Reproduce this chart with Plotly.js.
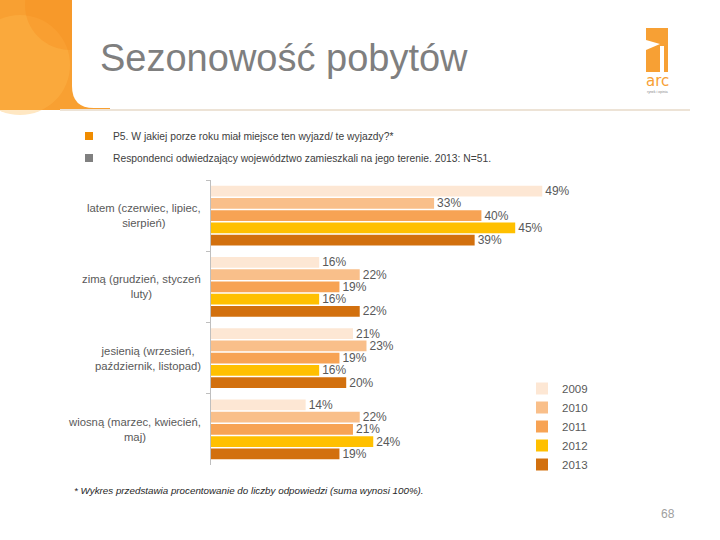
<!DOCTYPE html>
<html><head><meta charset="utf-8">
<script src="https://cdn.plot.ly/plotly-3.0.1.min.js"></script>
<style>html,body{margin:0;padding:0;background:#fff}#chart{width:720px;height:540px}</style>
</head><body><div id="chart"></div>
<script>
// Data
const categories = ["latem (czerwiec, lipiec,<br>sierpień)", "zimą (grudzień, styczeń<br>luty)", "jesienią (wrzesień,<br>październik, listopad)", "wiosną (marzec, kwiecień,<br>maj)"];
const years = ["2009", "2010", "2011", "2012", "2013"];
const v2009 = [49, 16, 21, 14];
const v2010 = [33, 22, 23, 22];
const v2011 = [40, 19, 19, 21];
const v2012 = [45, 16, 16, 24];
const v2013 = [39, 22, 20, 19];
const seriesValues = [v2009, v2010, v2011, v2012, v2013];
const colors = ["#FDE7D4", "#F9BF8A", "#F7A354", "#FFC000", "#D2700E"];

const W = 720, H = 540, L = 211, R = 620, T = 180, B = 465;
const px = x => (x - L) / (R - L);
const py = y => (B - y) / (B - T);
const FONT = 'Liberation Sans, Arial, sans-serif';

const traces = years.map((yr, i) => ({
  type: 'bar', orientation: 'h', name: yr,
  y: categories, x: seriesValues[i],
  marker: {color: colors[i]},
  text: seriesValues[i].map(v => v + '%'), textposition: 'outside', constraintext: 'none',
  textfont: {family: FONT, size: 12, color: '#595959'},
  cliponaxis: false, hoverinfo: 'x+name'
}));

const gray = '#595959';
const shapes = [
  // header orange panel
  {type: 'rect', xref: 'paper', yref: 'paper', x0: px(0), x1: px(110), y0: py(110), y1: py(0), fillcolor: '#F8A032', line: {width: 0}, layer: 'below'},
  {type: 'circle', xref: 'paper', yref: 'paper', x0: px(-30), x1: px(70), y0: py(115), y1: py(15), fillcolor: 'rgba(255,185,80,0.35)', line: {width: 0}, layer: 'below'},
  {type: 'circle', xref: 'paper', yref: 'paper', x0: px(25), x1: px(115), y0: py(50), y1: py(-40), fillcolor: 'rgba(245,140,30,0.35)', line: {width: 0}, layer: 'below'},
  // white header panel with rounded bottom-left corner
  {type: 'path', xref: 'paper', yref: 'paper',
   path: `M ${px(72)} ${py(-1)} L ${px(721)} ${py(-1)} L ${px(721)} ${py(108)} L ${px(94)} ${py(108)} Q ${px(72)} ${py(108)} ${px(72)} ${py(86)} Z`,
   fillcolor: '#ffffff', line: {width: 0}, layer: 'below'},
  {type: 'line', xref: 'paper', yref: 'paper', x0: px(60), x1: px(690), y0: py(110), y1: py(110), line: {color: '#EDE3D6', width: 2}},
  // bullets
  {type: 'rect', xref: 'paper', yref: 'paper', x0: px(85), x1: px(93), y0: py(140), y1: py(132), fillcolor: '#F08C00', line: {width: 0}},
  {type: 'rect', xref: 'paper', yref: 'paper', x0: px(85), x1: px(93), y0: py(162), y1: py(154), fillcolor: '#808080', line: {width: 0}},
  // logo
  {type: 'rect', xref: 'paper', yref: 'paper', x0: px(646), x1: px(668), y0: py(72), y1: py(28), fillcolor: '#F7A034', line: {width: 0}},
  {type: 'path', xref: 'paper', yref: 'paper',
   path: `M ${px(646)} ${py(40)} L ${px(660)} ${py(44)} L ${px(646)} ${py(50)} Z`, fillcolor: '#ffffff', line: {width: 0}},
  {type: 'rect', xref: 'paper', yref: 'paper', x0: px(660), x1: px(664), y0: py(72), y1: py(46), fillcolor: '#ffffff', line: {width: 0}}
];

const annotations = [
  {xref: 'paper', yref: 'paper', x: px(111), y: py(136), xanchor: 'left', yanchor: 'middle', showarrow: false,
   text: 'P5. W jakiej porze roku miał miejsce ten wyjazd/ te wyjazdy?*', font: {family: FONT, size: 10.3, color: '#404040'}},
  {xref: 'paper', yref: 'paper', x: px(111), y: py(158), xanchor: 'left', yanchor: 'middle', showarrow: false,
   text: 'Respondenci odwiedzający województwo zamieszkali na jego terenie. 2013: N=51.', font: {family: FONT, size: 10.3, color: '#404040'}},
  {xref: 'paper', yref: 'paper', x: px(72), y: py(490), xanchor: 'left', yanchor: 'middle', showarrow: false,
   text: '<i>* Wykres przedstawia procentowanie do liczby odpowiedzi (suma wynosi 100%).</i>', font: {family: FONT, size: 9.8, color: '#262626'}},
  {xref: 'paper', yref: 'paper', x: px(677), y: py(514), xanchor: 'right', yanchor: 'middle', showarrow: false,
   text: '68', font: {family: FONT, size: 12, color: '#A0A0A0'}},
  {xref: 'paper', yref: 'paper', x: px(657), y: py(81), xanchor: 'center', yanchor: 'middle', showarrow: false,
   text: 'arc', font: {family: 'DejaVu Sans, sans-serif', size: 15, color: '#F7A034'}},
  {xref: 'paper', yref: 'paper', x: px(657), y: py(92), xanchor: 'center', yanchor: 'middle', showarrow: false,
   text: 'rynek i opinia', font: {family: FONT, size: 3.5, color: '#888'}}
];
categories.forEach(c => annotations.push({
  xref: 'paper', yref: 'y', x: px(203), y: c, xanchor: 'right', yanchor: 'middle', showarrow: false,
  text: c, align: 'center', font: {family: FONT, size: 11.3, color: gray}
}));

const layout = {
  width: W, height: H, paper_bgcolor: '#ffffff', plot_bgcolor: 'rgba(0,0,0,0)',
  margin: {l: L, r: W - R, t: T, b: H - B, pad: 0},
  title: {text: 'Sezonowość pobytów', xref: 'container', yref: 'container', x: 100 / W, xanchor: 'left', y: 1 - 58 / H, yanchor: 'middle',
          font: {family: FONT, size: 38, color: '#7F7F7F'}},
  barmode: 'group', bargap: 0.14, bargroupgap: 0.12,
  xaxis: {range: [0, 60.5], visible: false, fixedrange: true},
  yaxis: {type: 'category', autorange: 'reversed', showticklabels: false, showline: true, linecolor: '#BFBFBF', linewidth: 1,
          ticks: 'outside', tickson: 'boundaries', ticklen: 4, tickcolor: '#BFBFBF', showgrid: false, zeroline: false},
  showlegend: true,
  legend: {x: px(522), y: py(374), xanchor: 'left', yanchor: 'top', traceorder: 'normal', itemwidth: 30,
           font: {family: FONT, size: 11.5, color: gray}, bgcolor: 'rgba(0,0,0,0)', tracegroupgap: 0},
  shapes: shapes, annotations: annotations
};
Plotly.newPlot('chart', traces, layout, {displayModeBar: false, staticPlot: true});
</script></body></html>
